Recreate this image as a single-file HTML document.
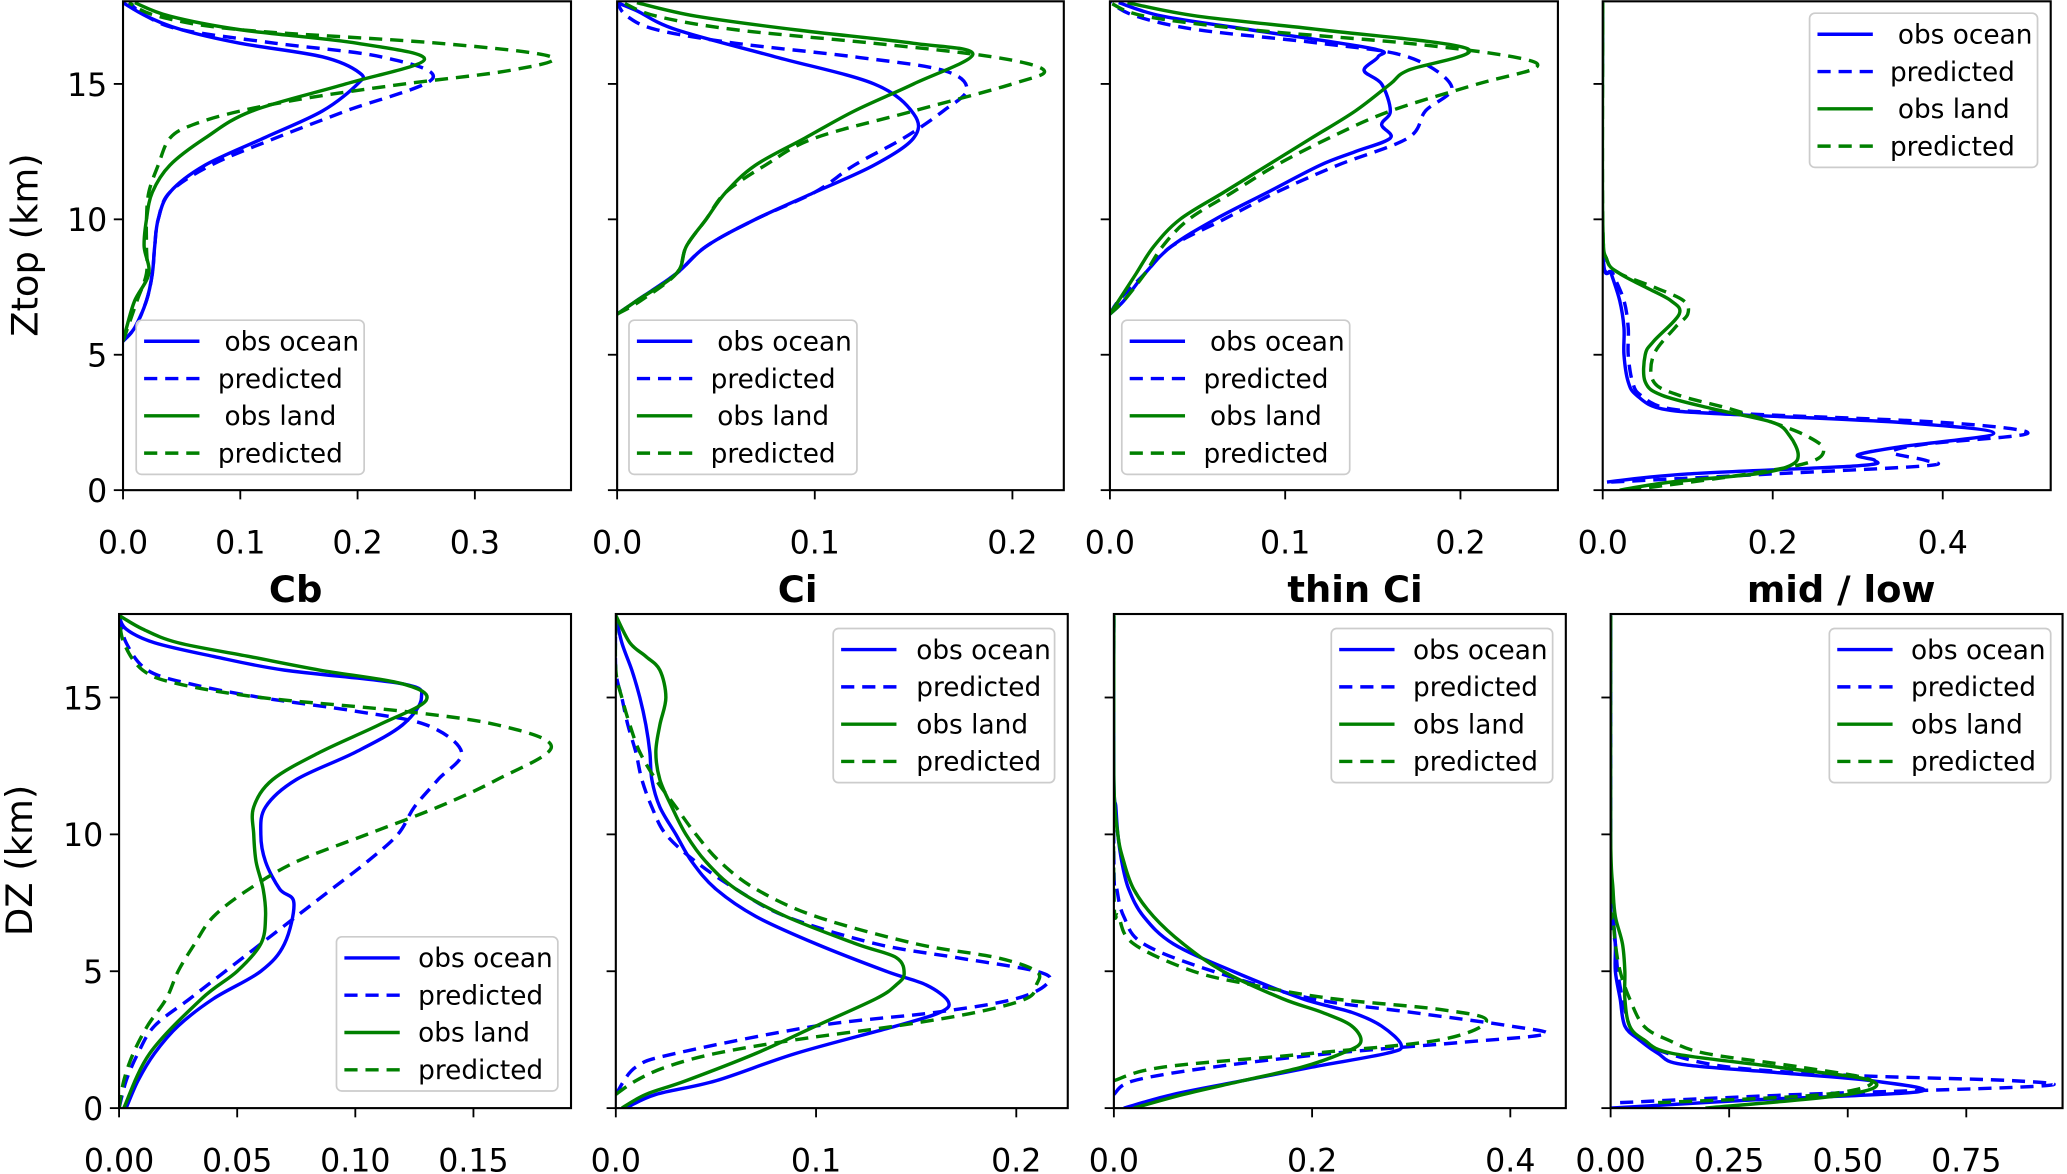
<!DOCTYPE html>
<html><head><meta charset="utf-8">
<style>
html,body{margin:0;padding:0;background:#fff;}
svg{display:block;font-family:"DejaVu Sans","Liberation Sans",sans-serif;}
</style></head>
<body>
<svg id="fig" width="2067" height="1174" viewBox="0 0 1568 891" xmlns="http://www.w3.org/2000/svg">
<rect x="0" y="0" width="1568" height="891" fill="#fff"/>
<text x="28" y="186" font-size="28" text-anchor="middle" transform="rotate(-90 28 186)">Ztop (km)</text>
<text x="24" y="653" font-size="28" text-anchor="middle" transform="rotate(-90 24 653)">DZ (km)</text>
</svg>
<script>
// ---- data: each series is [height_km, fraction] pairs ----
const cbTopOceanObs=[[5.5,0],[6,0.01],[7,0.02],[8,0.025],[9,0.027],[10,0.03],[11,0.04],[12,0.07],[13,0.12],[14,0.17],[15,0.2],[15.4,0.202],[16,0.17],[16.5,0.1],[17,0.05],[17.5,0.02],[18,0]];
const cbTopOceanPred=[[5.5,0],[6,0.01],[7,0.02],[8,0.025],[9,0.027],[10,0.03],[11,0.04],[12,0.075],[13,0.13],[14,0.19],[15.2,0.264],[16,0.22],[16.5,0.13],[17,0.05],[17.5,0.02],[18,0.005]];
const cbTopLandObs=[[5.5,0],[6,0.003],[7,0.01],[8,0.022],[9,0.018],[10,0.02],[11,0.025],[12,0.04],[13,0.07],[14,0.11],[15,0.19],[15.9,0.257],[16.5,0.2],[17,0.1],[17.5,0.04],[18,0.01]];
const cbTopLandPred=[[5.5,0],[6,0.004],[7,0.012],[8,0.02],[9,0.02],[10,0.02],[11,0.022],[12,0.03],[13,0.04],[13.5,0.06],[14,0.1],[14.5,0.16],[15,0.24],[15.5,0.33],[16,0.365],[16.5,0.27],[17,0.1],[17.5,0.03],[18,0.005]];

const ciTopOceanObs=[[6.5,0],[7,0.01],[8,0.03],[9,0.045],[10,0.07],[11,0.1],[12,0.13],[13,0.15],[13.9,0.15],[15,0.13],[16,0.08],[17,0.03],[17.7,0.01],[18,0]];
const ciTopOceanPred=[[6.5,0],[7,0.01],[8,0.03],[9,0.045],[10,0.07],[11,0.1],[12,0.12],[13,0.145],[14,0.165],[14.8,0.177],[15.5,0.165],[16,0.12],[16.5,0.06],[17,0.02],[17.5,0.005],[18,0]];
const ciTopLandObs=[[6.5,0],[7,0.01],[8,0.03],[9,0.035],[10,0.045],[11,0.055],[12,0.07],[13,0.095],[14,0.12],[15,0.15],[16.1,0.18],[16.5,0.15],[17,0.09],[17.5,0.04],[18,0.01]];
const ciTopLandPred=[[6.5,0],[7,0.012],[8,0.03],[9,0.035],[10,0.045],[11,0.055],[12,0.075],[13,0.1],[14,0.15],[15,0.2],[15.5,0.216],[16,0.19],[16.5,0.13],[17,0.06],[17.5,0.02],[18,0.003]];

const thinTopOceanObs=[[6.5,0],[7,0.008],[8,0.02],[9,0.035],[10,0.06],[11,0.09],[12,0.12],[12.5,0.14],[13,0.16],[13.5,0.155],[14,0.16],[15,0.155],[15.5,0.145],[16,0.153],[16.3,0.15],[17,0.08],[17.5,0.03],[18,0.005]];
const thinTopOceanPred=[[6.5,0],[7,0.005],[8,0.02],[9,0.035],[10,0.065],[11,0.095],[12,0.13],[13,0.17],[14,0.18],[14.9,0.195],[16,0.17],[16.5,0.12],[17,0.05],[17.5,0.015],[18,0]];
const thinTopLandObs=[[6.5,0],[7,0.005],[8,0.015],[9,0.025],[10,0.04],[11,0.065],[12,0.09],[13,0.115],[14,0.14],[15,0.16],[15.5,0.17],[16.3,0.204],[17,0.12],[17.5,0.05],[18,0.01]];
const thinTopLandPred=[[6.5,0],[7,0.008],[8,0.02],[9,0.03],[10,0.045],[11,0.07],[12,0.095],[13,0.125],[14,0.16],[15,0.21],[15.6,0.243],[16,0.23],[16.5,0.17],[17,0.08],[17.5,0.02],[18,0]];

const midTopOceanObs=[[0.3,0.005],[0.6,0.1],[0.9,0.3],[1.1,0.32],[1.3,0.3],[1.6,0.35],[2.1,0.46],[2.5,0.35],[2.8,0.15],[3,0.07],[3.5,0.04],[4,0.03],[5,0.025],[6,0.025],[7,0.02],[8,0.01],[9,0],[18,0]];
const midTopOceanPred=[[0.3,0.01],[0.6,0.2],[0.9,0.38],[1.1,0.38],[1.4,0.34],[1.7,0.38],[2.1,0.5],[2.5,0.4],[2.8,0.18],[3,0.08],[3.5,0.045],[4,0.035],[5,0.03],[6,0.03],[7,0.025],[8,0.012],[9,0],[18,0]];
const midTopLandObs=[[0,0.02],[0.3,0.08],[0.6,0.18],[0.9,0.22],[1.3,0.23],[2,0.22],[2.5,0.2],[3,0.13],[3.5,0.07],[4,0.05],[5,0.05],[5.5,0.06],[6.5,0.09],[7,0.08],[7.5,0.05],[8,0.02],[8.5,0.005],[10,0],[18,0]];
const midTopLandPred=[[0,0.03],[0.5,0.15],[1,0.24],[1.5,0.26],[2,0.24],[2.5,0.2],[3,0.15],[3.5,0.09],[4,0.06],[5,0.06],[6,0.085],[6.5,0.1],[7,0.095],[7.5,0.06],[8,0.02],[8.5,0.005],[10,0],[18,0]];

const cbDzOceanObs=[[0,0.003],[1,0.008],[2,0.015],[3,0.025],[4,0.04],[5,0.06],[6,0.07],[7.5,0.074],[8,0.068],[9,0.062],[10,0.06],[11,0.062],[12,0.075],[13,0.1],[14,0.12],[15,0.128],[15.5,0.12],[16,0.07],[16.5,0.04],[17,0.015],[17.5,0.003],[18,0]];
const cbDzOceanPred=[[0,0],[1,0.003],[2,0.008],[3,0.015],[4,0.03],[5,0.045],[6,0.06],[7,0.075],[8,0.09],[9,0.105],[10,0.118],[11,0.125],[12,0.135],[13,0.145],[14,0.13],[14.5,0.1],[15,0.06],[15.5,0.03],[16,0.012],[17,0.003],[18,0]];
const cbDzLandObs=[[0,0.002],[2,0.013],[4,0.035],[5,0.05],[6,0.06],[7,0.062],[8,0.061],[9,0.058],[10,0.057],[11,0.057],[12,0.065],[13,0.085],[14,0.11],[14.9,0.13],[15.5,0.12],[16,0.085],[16.5,0.055],[17,0.025],[17.5,0.01],[18,0]];
const cbDzLandPred=[[0,0],[1,0.002],[2,0.006],[3,0.012],[4,0.02],[5,0.025],[6,0.032],[7,0.04],[8,0.055],[9,0.075],[10,0.105],[11,0.135],[12,0.16],[13.2,0.183],[14,0.16],[14.5,0.12],[15,0.06],[15.5,0.025],[16,0.01],[17,0.002],[18,0]];

const ciDzOceanObs=[[0,0.005],[0.5,0.02],[1,0.05],[2,0.09],[3,0.14],[3.5,0.162],[3.9,0.166],[4.5,0.155],[5,0.135],[6,0.1],[7,0.07],[8,0.05],[9,0.038],[10,0.03],[11,0.022],[12,0.018],[13,0.017],[14,0.015],[15,0.012],[16,0.008],[17,0.003],[18,0]];
const ciDzOceanPred=[[0.5,0],[1.5,0.01],[2,0.03],[3,0.1],[3.5,0.16],[4,0.2],[4.6,0.216],[5,0.21],[5.5,0.17],[6,0.13],[7,0.085],[8,0.06],[9,0.04],[10,0.025],[11,0.018],[12,0.013],[13,0.01],[14,0.006],[15,0.003],[16,0],[18,0]];
const ciDzLandObs=[[0,0.003],[0.5,0.015],[1,0.035],[2,0.07],[3,0.1],[4,0.13],[4.5,0.14],[4.9,0.144],[5.5,0.14],[6,0.12],[7,0.085],[8,0.06],[9,0.045],[10,0.035],[11,0.028],[12,0.022],[13,0.02],[14,0.022],[15,0.025],[16,0.022],[16.5,0.015],[17,0.007],[18,0]];
const ciDzLandPred=[[0.5,0],[1,0.01],[1.5,0.025],[2,0.05],[2.5,0.09],[3,0.14],[3.5,0.18],[4,0.205],[4.5,0.21],[5,0.21],[5.5,0.19],[6,0.15],[7,0.1],[8,0.07],[9,0.052],[10,0.04],[11,0.03],[12,0.02],[13,0.012],[14,0.007],[15,0.003],[16,0],[18,0]];

const thinDzOceanObs=[[0,0.01],[0.5,0.06],[1,0.13],[1.5,0.2],[2,0.275],[2.3,0.29],[3,0.27],[3.5,0.24],[4,0.19],[5,0.12],[6,0.06],[7,0.03],[8,0.015],[9,0.008],[10,0.004],[11,0.002],[12,0],[18,0]];
const thinDzOceanPred=[[0.5,0],[1,0.02],[1.5,0.1],[2,0.22],[2.4,0.35],[2.7,0.435],[3,0.4],[3.5,0.3],[4,0.2],[5,0.1],[6,0.03],[7,0.01],[8,0.003],[9,0],[18,0]];
const thinDzLandObs=[[0,0.02],[0.5,0.07],[1,0.13],[1.5,0.19],[2,0.23],[2.4,0.249],[3,0.24],[3.5,0.21],[4,0.17],[5,0.11],[6,0.07],[7,0.04],[8,0.02],[9,0.01],[10,0.004],[12,0],[18,0]];
const thinDzLandPred=[[1,0],[1.5,0.05],[2,0.2],[2.5,0.33],[3.2,0.376],[3.6,0.33],[4,0.22],[4.5,0.14],[5,0.08],[6,0.02],[7,0.005],[8,0],[18,0]];

const midDzOceanObs=[[0,0.0],[0.3,0.3],[0.6,0.65],[1,0.55],[1.3,0.35],[1.6,0.15],[2,0.1],[2.5,0.06],[3,0.03],[4,0.02],[5,0.01],[6,0.01],[7,0.005],[8,0],[18,0]];
const midDzOceanPred=[[0.2,0.02],[0.5,0.4],[0.8,0.9],[1,0.85],[1.2,0.5],[1.5,0.25],[2,0.12],[2.5,0.06],[3,0.04],[4,0.025],[5,0.015],[6,0.01],[7,0],[8,0],[18,0]];
const midDzLandObs=[[0,0.2],[0.5,0.5],[1,0.55],[1.5,0.35],[2,0.13],[2.5,0.07],[3,0.04],[4,0.03],[5,0.03],[6,0.025],[7,0.01],[8,0.005],[10,0],[18,0]];
const midDzLandPred=[[0.2,0.1],[0.5,0.45],[1,0.55],[1.5,0.4],[2,0.2],[2.5,0.12],[3,0.07],[4,0.04],[5,0.02],[6,0.01],[7,0.005],[8,0],[18,0]];

const titles=["Cb","Ci","thin Ci","mid / low"];
const row1Ticks=[["0.0","0.1","0.2","0.3"],["0.0","0.1","0.2"],["0.0","0.1","0.2"],["0.0","0.2","0.4"]];
const row2Ticks=[["0.00","0.05","0.10","0.15"],["0.0","0.1","0.2"],["0.0","0.2","0.4"],["0.00","0.25","0.50","0.75"]];
const yTicks=[0,5,10,15];
const legendLabels=["obs ocean","predicted","obs land","predicted"];

// ---- layout ----
const NS="http://www.w3.org/2000/svg";
const svg=document.getElementById('fig');
function el(tag,attrs,parent){const e=document.createElementNS(NS,tag);for(const k in attrs)e.setAttribute(k,attrs[k]);(parent||svg).appendChild(e);return e;}
const titleX=[224,605,1028,1397];
const panels=[
 {x0:93,x1:433,y0:1,y1:372,xmax:0.382,ser:[cbTopOceanObs,cbTopOceanPred,cbTopLandObs,cbTopLandPred],ticks:row1Ticks[0],name:"cb-ztop",leg:[103,243],tOff:[67,62,67,62],ylab:true},
 {x0:468,x1:807,y0:1,y1:372,xmax:0.226,ser:[ciTopOceanObs,ciTopOceanPred,ciTopLandObs,ciTopLandPred],ticks:row1Ticks[1],name:"ci-ztop",leg:[477,243],tOff:[67,62,67,62]},
 {x0:842,x1:1182,y0:1,y1:372,xmax:0.2556,ser:[thinTopOceanObs,thinTopOceanPred,thinTopLandObs,thinTopLandPred],ticks:row1Ticks[2],name:"thin-ci-ztop",leg:[851,243],tOff:[67,62,67,62]},
 {x0:1216,x1:1556,y0:1,y1:372,xmax:0.527,ser:[midTopOceanObs,midTopOceanPred,midTopLandObs,midTopLandPred],ticks:row1Ticks[3],name:"mid-low-ztop",leg:[1373,10],tOff:[67,61,67,61]},
 {x0:90,x1:433,y0:466,y1:841,xmax:0.1913,ser:[cbDzOceanObs,cbDzOceanPred,cbDzLandObs,cbDzLandPred],ticks:row2Ticks[0],name:"cb-dz",leg:[255,711],tOff:[62,62,62,62],ylab:true},
 {x0:467,x1:810,y0:466,y1:841,xmax:0.2257,ser:[ciDzOceanObs,ciDzOceanPred,ciDzLandObs,ciDzLandPred],ticks:row2Ticks[1],name:"ci-dz",leg:[632,477],tOff:[63,63,63,63]},
 {x0:845,x1:1188,y0:466,y1:841,xmax:0.456,ser:[thinDzOceanObs,thinDzOceanPred,thinDzLandObs,thinDzLandPred],ticks:row2Ticks[2],name:"thin-ci-dz",leg:[1010,477],tOff:[62,62,62,62]},
 {x0:1222,x1:1565,y0:466,y1:841,xmax:0.953,ser:[midDzOceanObs,midDzOceanPred,midDzLandObs,midDzLandPred],ticks:row2Ticks[3],name:"mid-low-dz",leg:[1388,477],tOff:[62,62,62,62]}
];
const colors=["#0000ff","#0000ff","#008000","#008000"];
const dashes=["none","10,6","none","10,6"];
const serNames=["obs-ocean","predicted-ocean","obs-land","predicted-land"];
const YMAX=18.05;

function smoothPath(pts){
  let d="M"+pts[0][0].toFixed(2)+","+pts[0][1].toFixed(2);
  for(let i=0;i<pts.length-1;i++){
    const p0=pts[Math.max(0,i-1)],p1=pts[i],p2=pts[i+1],p3=pts[Math.min(pts.length-1,i+2)];
    const c1x=p1[0]+(p2[0]-p0[0])/6,c1y=p1[1]+(p2[1]-p0[1])/6;
    const c2x=p2[0]-(p3[0]-p1[0])/6,c2y=p2[1]-(p3[1]-p1[1])/6;
    d+=" C"+c1x.toFixed(2)+","+c1y.toFixed(2)+" "+c2x.toFixed(2)+","+c2y.toFixed(2)+" "+p2[0].toFixed(2)+","+p2[1].toFixed(2);
  }
  return d;
}

panels.forEach((p,pi)=>{
  const g=el('g',{});
  
  
  const xs=v=>p.x0+v/p.xmax*(p.x1-p.x0);
  const ys=z=>p.y1-z/YMAX*(p.y1-p.y0);
  const clipId='clip'+pi;
  const cp=el('clipPath',{id:clipId},g);
  el('rect',{x:p.x0,y:p.y0,width:p.x1-p.x0,height:p.y1-p.y0},cp);
  p.ser.forEach((s,si)=>{
    const pts=s.map(d=>[xs(d[1]),ys(d[0])]);
    const path=el('path',{d:smoothPath(pts),fill:'none',stroke:colors[si],'stroke-width':2.6,'stroke-dasharray':dashes[si],'clip-path':'url(#'+clipId+')'},g);
    
    
  });
  const fr=el('rect',{x:p.x0,y:p.y0,width:p.x1-p.x0,height:p.y1-p.y0,fill:'none',stroke:'#000','stroke-width':1.6},g);
  
  
  const xa=el('g',{},g);
  
  
  p.ticks.forEach(t=>{
    const x=xs(parseFloat(t));
    el('line',{x1:x,x2:x,y1:p.y1,y2:p.y1+7,stroke:'#000','stroke-width':1.4},xa);
    const tx=el('text',{x:x,y:p.y1+48,'font-size':24,'text-anchor':'middle'},xa);
    tx.textContent=t;
    
    
  });
  const ya=el('g',{},g);
  
  
  yTicks.forEach(t=>{
    const y=ys(t);
    el('line',{x1:p.x0-7,x2:p.x0,y1:y,y2:y,stroke:'#000','stroke-width':1.4},ya);
    if(p.ylab){
      const tx=el('text',{x:p.x0-12,y:y+9,'font-size':24,'text-anchor':'end'},ya);
      tx.textContent=String(t);
      
      
    }
  });
  const lg=el('g',{},g);
  
  
  const [lx,ly]=p.leg;
  el('rect',{x:lx,y:ly,width:pi<4?173:168,height:117,rx:4,fill:'#fff','fill-opacity':0.85,stroke:'#cccccc','stroke-width':1.3},lg);
  legendLabels.forEach((lab,i)=>{
    const ey=ly+16+i*28.3;
    const ln=el('line',{x1:lx+6,x2:lx+48,y1:ey,y2:ey,stroke:colors[i],'stroke-width':2.6,'stroke-dasharray':dashes[i]},lg);
    
    
    const tx=el('text',{x:lx+p.tOff[i],y:ey+7,'font-size':20},lg);
    tx.textContent=lab;
    
    
  });
  if(pi<4){
    const tt=el('text',{x:titleX[pi],y:457,'font-size':28,'font-weight':'bold','text-anchor':'middle'},g);
    tt.textContent=titles[pi];
    
    
  }
});
</script>
</body></html>
